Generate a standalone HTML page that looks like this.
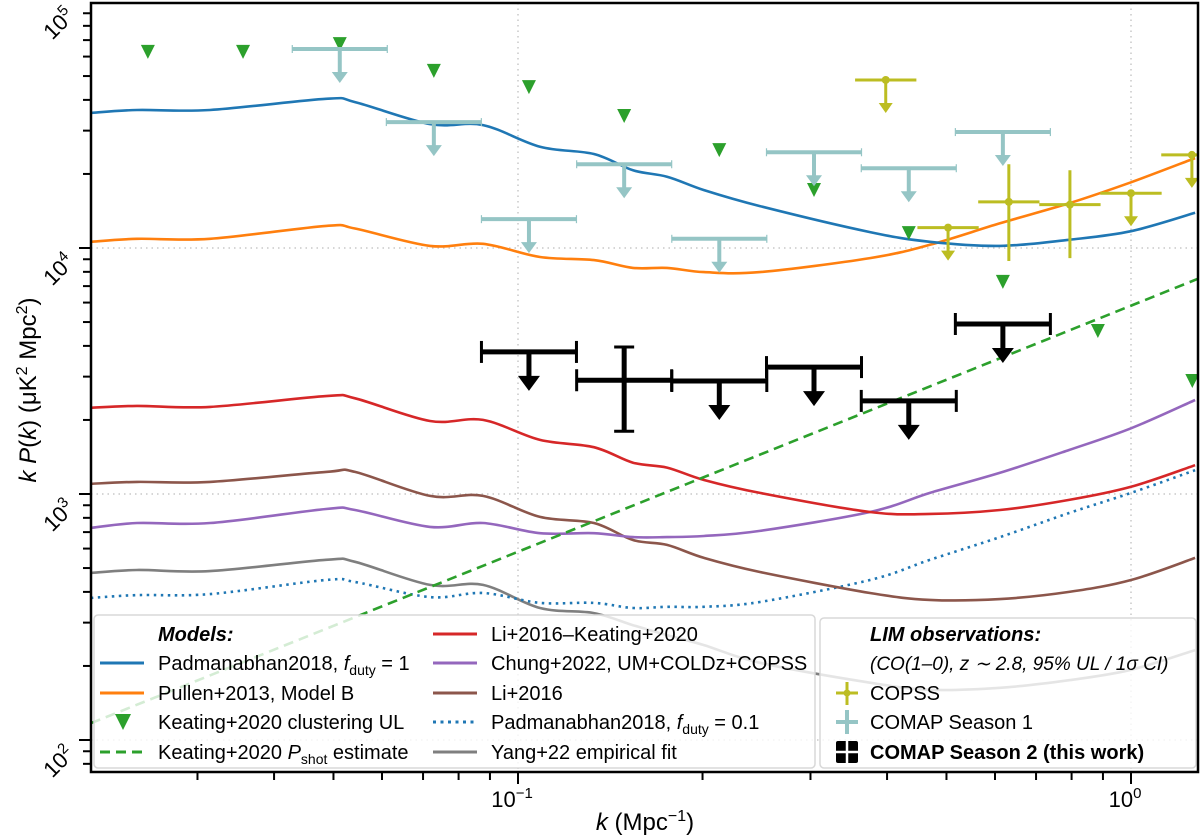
<!DOCTYPE html>
<html><head><meta charset="utf-8">
<style>
html,body{margin:0;padding:0;background:#fff;}
svg{display:block;font-family:"Liberation Sans",sans-serif;}
</style></head>
<body>
<svg id="chart" width="1200" height="839" viewBox="0 0 1200 839" xmlns="http://www.w3.org/2000/svg">
  <defs><clipPath id="plotclip"><rect x="91" y="3" width="1107" height="769"/></clipPath></defs>
  <rect x="0" y="0" width="1200" height="839" fill="#fff"/>
  <g id="grid"></g>
  <g id="series" clip-path="url(#plotclip)"></g>
  <g id="legends"></g>
  <g id="axes"></g>
</svg>
<script>
// ---------- data ----------
const kGrid = [0.0201,0.0239,0.03145,0.04862,0.05421,0.07185,0.08768,0.1086,0.1330,0.1540,0.1750,0.2011,0.2481,0.3752,0.4699,0.6113,0.7924,1.000,1.272];
const padmanabhanDuty1 = [35400,36400,36400,40400,39200,31900,31600,25800,24100,20700,19500,17200,14800,11600,10600,10200,10800,11700,13900];
const pullenB = [10600,10900,10900,12300,12000,10200,10400,9190,8930,8300,8300,7980,7980,9100,10300,12600,15200,18500,23200];
const liKeating = [2240,2280,2260,2500,2450,1980,2000,1660,1550,1340,1280,1140,1010,845,830,861,946,1070,1310];
const chung2022 = [728,762,762,869,861,735,762,693,693,668,668,675,708,845,1010,1220,1510,1850,2410];
const li2016 = [1100,1120,1120,1230,1230,982,982,807,762,650,621,550,482,396,371,374,400,447,550];
const padmanabhanDuty01 = [378,388,392,447,439,381,396,361,361,344,348,348,364,447,540,668,837,1010,1250];
const yang22 = [478,491,486,540,530,427,427,344,328,293,267,243,206,171,160,163,175,193,232];

const shotK = [0.0201, 1.285];
const shotVal = [117, 7490];

const keatingK = [0.0249,0.0356,0.0512,0.0729,0.1042,0.149,0.213,0.304,0.434,0.618,0.883,1.259];
const keatingUL = [62700,62700,67400,52500,45100,34400,25000,17200,11500,7280,4600,2880];

const comap1K = [0.0512,0.0729,0.1042,0.149,0.213,0.304,0.434,0.618];
const comap1UL = [64400,32500,13100,21900,10900,24500,21100,29600];

const comap2K = [0.1042,0.149,0.213,0.304,0.434,0.618];
const comap2Val = [3780,2900,2880,3280,2390,4910];
const comap2IsUL = [true,false,true,true,true,true];
const comap2Lo = [0,1800,0,0,0,0];
const comap2Hi = [0,3960,0,0,0,0];

const copssK = [0.398,0.503,0.632,0.795,1.0,1.257];
const copssVal = [48200,12100,15400,15000,16700,23900];
const copssIsUL = [true,true,false,false,true,true];
const copssLo = [0,0,8850,9100,0,0];
const copssHi = [0,0,21900,20700,0,0];

const xTickLabels = ["10", "10"];
const xTickExp = ["\u22121", "0"];
const xTickVals = [0.1, 1];
const yTickVals = [100, 1000, 10000, 100000];
const yTickExp = ["2","3","4","5"];

// ---------- scales ----------
const L=91, R=1198, T=3, B=772;
function X(k){ return 518 + 613*(Math.log10(k)+1); }
function Y(p){ return 248 + 246*(4 - Math.log10(p)); }
const NS="http://www.w3.org/2000/svg";
function mk(tag, parent, attrs){
  const e=document.createElementNS(NS,tag);
  for(const a in attrs) e.setAttribute(a, attrs[a]);
  parent.appendChild(e); return e;
}
const gGrid=document.getElementById('grid');
const gS=document.getElementById('series');
const gL=document.getElementById('legends');
const gA=document.getElementById('axes');

function smoothPath(pts){
  let d="M"+pts[0][0].toFixed(1)+","+pts[0][1].toFixed(1);
  for(let i=0;i<pts.length-1;i++){
    const p0=pts[i-1]||pts[i], p1=pts[i], p2=pts[i+1], p3=pts[i+2]||p2;
    const c1=[p1[0]+(p2[0]-p0[0])/6, p1[1]+(p2[1]-p0[1])/6];
    const c2=[p2[0]-(p3[0]-p1[0])/6, p2[1]-(p3[1]-p1[1])/6];
    d+=" C"+c1[0].toFixed(1)+","+c1[1].toFixed(1)+" "+c2[0].toFixed(1)+","+c2[1].toFixed(1)+" "+p2[0].toFixed(1)+","+p2[1].toFixed(1);
  }
  return d;
}

// ---------- grid ----------
xTickVals.forEach(function(v){
  const ln=mk('line',gGrid,{x1:X(v),x2:X(v),y1:T,y2:B,stroke:'#c8c8c8','stroke-width':1.5,'stroke-dasharray':'1.5,4'});
  
  
});
yTickVals.forEach(function(v){
  const y=Y(v); if(y<T+2||y>B) return;
  const ln=mk('line',gGrid,{x1:L,x2:R,y1:y,y2:y,stroke:'#c8c8c8','stroke-width':1.5,'stroke-dasharray':'1.5,4'});
  
  
});

// ---------- model curves ----------
const curves=[
  {vals:yang22,color:'#7f7f7f',name:'yang22-curve',dash:null},
  {vals:padmanabhanDuty01,color:'#1f77b4',name:'padmanabhan-fduty-0.1-curve',dash:'2.5,4.5'},
  {vals:li2016,color:'#8c564b',name:'li2016-curve',dash:null},
  {vals:chung2022,color:'#9467bd',name:'chung2022-curve',dash:null},
  {vals:liKeating,color:'#d62728',name:'li2016-keating2020-curve',dash:null},
  {vals:pullenB,color:'#ff7f0e',name:'pullen2013-curve',dash:null},
  {vals:padmanabhanDuty1,color:'#1f77b4',name:'padmanabhan-fduty-1-curve',dash:null}
];
curves.forEach(function(c){
  const pts=kGrid.map(function(k,i){return [X(k),Y(c.vals[i])];});
  const p=mk('path',gS,{d:smoothPath(pts),fill:'none',stroke:c.color,'stroke-width':2.6,'stroke-linejoin':'round'});
  if(c.dash) p.setAttribute('stroke-dasharray',c.dash);
  
  
});
const shot=mk('line',gS,{x1:X(shotK[0]),y1:Y(shotVal[0]),x2:X(shotK[1]),y2:Y(shotVal[1]),stroke:'#2ca02c','stroke-width':2.6,'stroke-dasharray':'10,6'});



// ---------- Keating UL triangles ----------
keatingK.forEach(function(k,i){
  const x=X(k), y=Y(keatingUL[i]);
  const t=mk('polygon',gS,{points:(x-7)+","+(y-7)+" "+(x+7)+","+(y-7)+" "+x+","+(y+7),fill:'#2ca02c'});
  
  
});

// ---------- helpers for UL/errorbars ----------
function hbar(parent,k,halfLog,val,color,w,capH,capW){
  const x1=X(k*Math.pow(10,-halfLog)), x2=X(k*Math.pow(10,halfLog)), y=Y(val);
  const g=mk('g',parent,{});
  mk('line',g,{x1:x1,x2:x2,y1:y,y2:y,stroke:color,'stroke-width':w});
  if(capH){
    mk('line',g,{x1:x1,x2:x1,y1:y-capH/2,y2:y+capH/2,stroke:color,'stroke-width':capW});
    mk('line',g,{x1:x2,x2:x2,y1:y-capH/2,y2:y+capH/2,stroke:color,'stroke-width':capW});
  }
  return g;
}
function arrow(g,k,val,color,w,len,hw,hh){
  const x=X(k), y=Y(val);
  mk('line',g,{x1:x,x2:x,y1:y,y2:y+len-hh+1,stroke:color,'stroke-width':w});
  mk('polygon',g,{points:(x-hw)+","+(y+len-hh)+" "+(x+hw)+","+(y+len-hh)+" "+x+","+(y+len),fill:color});
}

// COMAP Season 1
comap1K.forEach(function(k,i){
  const g=hbar(gS,k,0.0775,comap1UL[i],'#95c5c5',4,8,1.2);
  arrow(g,k,comap1UL[i],'#95c5c5',4,34,8,11);
  
  
});

// COPSS
copssK.forEach(function(k,i){
  const g=hbar(gS,k,0.05,copssVal[i],'#bcbd22',3,0,0);
  const x=X(k), y=Y(copssVal[i]);
  mk('circle',g,{cx:x,cy:y,r:4,fill:'#bcbd22'});
  if(copssIsUL[i]){ arrow(g,k,copssVal[i],'#bcbd22',3,33,7,10); }
  else { mk('line',g,{x1:x,x2:x,y1:Y(copssHi[i]),y2:Y(copssLo[i]),stroke:'#bcbd22','stroke-width':3}); }
  
  
});

// COMAP Season 2
comap2K.forEach(function(k,i){
  const g=hbar(gS,k,0.0775,comap2Val[i],'#000',5,22,3);
  const x=X(k);
  if(comap2IsUL[i]){ arrow(g,k,comap2Val[i],'#000',5,39,11,15); }
  else {
    const yh=Y(comap2Hi[i]), yl=Y(comap2Lo[i]);
    mk('line',g,{x1:x,x2:x,y1:yh,y2:yl,stroke:'#000','stroke-width':5});
    mk('line',g,{x1:x-10,x2:x+10,y1:yh,y2:yh,stroke:'#000','stroke-width':3});
    mk('line',g,{x1:x-10,x2:x+10,y1:yl,y2:yl,stroke:'#000','stroke-width':3});
  }
  
  
});

// ---------- axes ----------
const frame=mk('rect',gA,{x:L,y:T,width:R-L,height:B-T,fill:'none',stroke:'#000','stroke-width':2.5});


// x ticks
for(let dec=-2; dec<=0; dec++){
  for(let m=1;m<=9;m++){
    const v=m*Math.pow(10,dec), x=X(v);
    if(x<L-0.5||x>R+0.5) continue;
    const t=mk('line',gA,{x1:x,x2:x,y1:B,y2:B+(m===1?12:8),stroke:'#000','stroke-width':2});
    
    
  }
}
xTickVals.forEach(function(v,i){
  const t=mk('text',gA,{x:X(v)-6,y:807,'font-size':22,'text-anchor':'middle',fill:'#000'});
  
  
  t.textContent=xTickLabels[i];
  const s=mk('tspan',t,{dy:-9,'font-size':15});
  s.textContent=xTickExp[i];
});
// y ticks
for(let dec=1; dec<=5; dec++){
  for(let m=1;m<=9;m++){
    const v=m*Math.pow(10,dec), y=Y(v);
    if(y<T-0.5||y>B+0.5) continue;
    const t=mk('line',gA,{x1:L-(m===1?12:8),x2:L,y1:y,y2:y,stroke:'#000','stroke-width':2});
    
    
  }
}
yTickVals.forEach(function(v,i){
  const y=Y(v);
  const t=mk('text',gA,{transform:'translate(64,'+(y+27)+') rotate(-45)','font-size':22,'text-anchor':'middle',fill:'#000'});
  
  
  t.textContent="10";
  const s=mk('tspan',t,{dy:-9,'font-size':15});
  s.textContent=yTickExp[i];
});
</script>
<script>
// ---------- static labels and legends ----------
(function(){
const NS="http://www.w3.org/2000/svg";
const gL=document.getElementById('legends');
const gA=document.getElementById('axes');
function mk(tag,parent,attrs){const e=document.createElementNS(NS,tag);for(const a in attrs)e.setAttribute(a,attrs[a]);parent.appendChild(e);return e;}

// axis titles
const xt=mk('text',gA,{x:645,y:830,'font-size':24,'text-anchor':'middle',fill:'#000'});


xt.innerHTML='<tspan font-style="italic">k</tspan> (Mpc<tspan dy="-9" font-size="16">\u22121</tspan><tspan dy="9">)</tspan>';
const yt=mk('text',gA,{transform:'translate(36,390) rotate(-90)','font-size':24,'text-anchor':'middle',fill:'#000'});


yt.innerHTML='<tspan font-style="italic">k P</tspan>(<tspan font-style="italic">k</tspan>) (\u03bcK<tspan dy="-9" font-size="16">2</tspan><tspan dy="9"> Mpc</tspan><tspan dy="-9" font-size="16">2</tspan><tspan dy="9">)</tspan>';

// models legend
const lg1=mk('g',gL,{});


mk('rect',lg1,{x:94,y:615,width:721,height:153,rx:4,fill:'rgba(255,255,255,0.8)',stroke:'#d8d8d8','stroke-width':1.5});
const t1=mk('text',lg1,{x:158,y:641,'font-size':20,'font-weight':'bold','font-style':'italic'});


t1.textContent='Models:';
const rowsY=[641,670,700,729,759];
const entries=[
 {col:0,row:1,type:'line',color:'#1f77b4',html:'Padmanabhan2018, <tspan font-style="italic">f</tspan><tspan dy="5" font-size="14">duty</tspan><tspan dy="-5"> = 1</tspan>',name:'legend-padmanabhan-fduty-1'},
 {col:0,row:2,type:'line',color:'#ff7f0e',html:'Pullen+2013, Model B',name:'legend-pullen2013'},
 {col:0,row:3,type:'tri',color:'#2ca02c',html:'Keating+2020 clustering UL',name:'legend-keating-ul'},
 {col:0,row:4,type:'dash',color:'#2ca02c',html:'Keating+2020 <tspan font-style="italic">P</tspan><tspan dy="5" font-size="14">shot</tspan><tspan dy="-5"> estimate</tspan>',name:'legend-keating-pshot'},
 {col:1,row:0,type:'line',color:'#d62728',html:'Li+2016\u2013Keating+2020',name:'legend-li-keating'},
 {col:1,row:1,type:'line',color:'#9467bd',html:'Chung+2022, UM+COLDz+COPSS',name:'legend-chung2022'},
 {col:1,row:2,type:'line',color:'#8c564b',html:'Li+2016',name:'legend-li2016'},
 {col:1,row:3,type:'dot',color:'#1f77b4',html:'Padmanabhan2018, <tspan font-style="italic">f</tspan><tspan dy="5" font-size="14">duty</tspan><tspan dy="-5"> = 0.1</tspan>',name:'legend-padmanabhan-fduty-0.1'},
 {col:1,row:4,type:'line',color:'#7f7f7f',html:'Yang+22 empirical fit',name:'legend-yang22'}
];
entries.forEach(function(e){
  const g=mk('g',lg1,{});
  
  
  const lx=e.col===0?100:433, tx=e.col===0?158:491, y=rowsY[e.row], my=y-7;
  if(e.type==='tri') mk('polygon',g,{points:(lx+15)+","+(my-8)+" "+(lx+31)+","+(my-8)+" "+(lx+23)+","+(my+8),fill:e.color});
  else {
    const ln=mk('line',g,{x1:lx,x2:lx+44,y1:my,y2:my,stroke:e.color,'stroke-width':3});
    if(e.type==='dash') ln.setAttribute('stroke-dasharray','10,6');
    if(e.type==='dot') ln.setAttribute('stroke-dasharray','3,4.5');
  }
  const t=mk('text',g,{x:tx,y:y,'font-size':20,fill:'#000'});
  t.innerHTML=e.html;
});

// LIM legend
const lg2=mk('g',gL,{});


mk('rect',lg2,{x:820,y:618,width:376,height:150,rx:4,fill:'rgba(255,255,255,0.8)',stroke:'#d8d8d8','stroke-width':1.5});
const lt=mk('text',lg2,{x:870,y:641,'font-size':20,'font-weight':'bold','font-style':'italic'});


lt.textContent='LIM observations:';
const ls=mk('text',lg2,{x:870,y:670,'font-size':19,'font-style':'italic'});


ls.textContent='(CO(1\u20130), z \u223c 2.8, 95% UL / 1\u03c3 CI)';
// COPSS entry
const e1=mk('g',lg2,{});


mk('line',e1,{x1:836,x2:858,y1:693,y2:693,stroke:'#bcbd22','stroke-width':3});
mk('line',e1,{x1:847,x2:847,y1:682,y2:705,stroke:'#bcbd22','stroke-width':3});
mk('circle',e1,{cx:847,cy:693,r:3.5,fill:'#bcbd22'});
mk('text',e1,{x:870,y:700,'font-size':20}).textContent='COPSS';
const e2=mk('g',lg2,{});


mk('line',e2,{x1:836,x2:858,y1:722,y2:722,stroke:'#95c5c5','stroke-width':4});
mk('line',e2,{x1:847,x2:847,y1:710,y2:734,stroke:'#95c5c5','stroke-width':4});
mk('text',e2,{x:870,y:729,'font-size':20}).textContent='COMAP Season 1';
const e3=mk('g',lg2,{});


mk('rect',e3,{x:836,y:741,width:22,height:22,rx:2,fill:'#000'});
mk('line',e3,{x1:836,x2:858,y1:752,y2:752,stroke:'#fff','stroke-width':2.5});
mk('line',e3,{x1:847,x2:847,y1:741,y2:763,stroke:'#fff','stroke-width':2.5});
mk('text',e3,{x:870,y:759,'font-size':20,'font-weight':'bold'}).textContent='COMAP Season 2 (this work)';
})();
</script>
</body></html>
